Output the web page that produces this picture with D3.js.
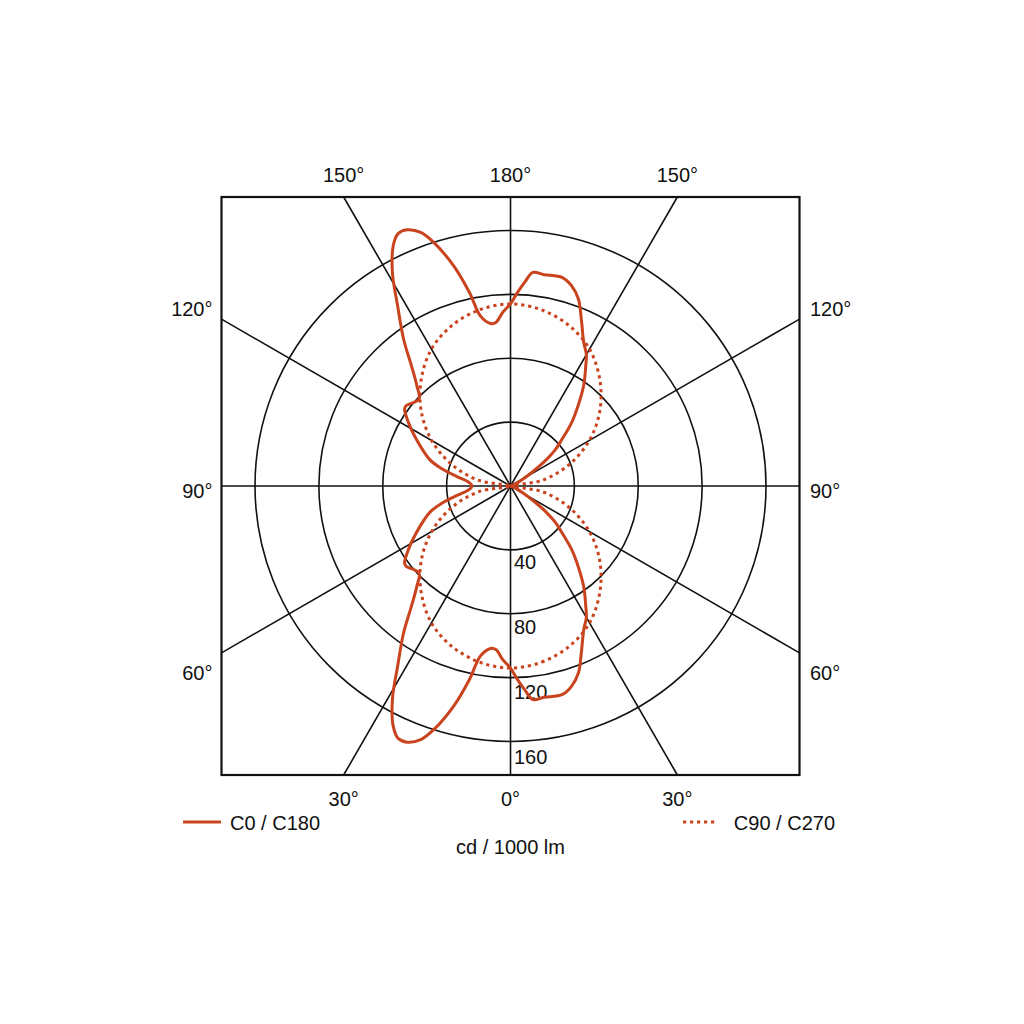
<!DOCTYPE html>
<html lang="en">
<head>
<meta charset="UTF-8">
<script src="https://d3js.org/d3.v7.min.js"></script>
<title>LDC</title>
<style>
  body { margin:0; background:#fff; }
  svg { display:block; font-family:"Liberation Sans", Arial, sans-serif; }
  .grid { stroke:#111; stroke-width:1.6px; fill:none; }
  .lbl { font-size:20px; fill:#111; }
</style>
</head>
<body>
<svg id="chart" width="1024" height="1024"></svg>
<script>
// gamma (deg from nadir) and intensity in cd / 1000 lm
var gammaC0 = [0,2,4,6,9,14,17,20,23,27,30,32,36,40,44,48,51,54,57,61,66,75,90,
               105,114,119,123,126,129,132,136,140,144,148,150,153,157,160,163,166,171,174,176,178,180];
var valueC0 = [114,121,128,134.5,134,134.5,131,124.5,113.5,101,95,89,78,66,55,43,36,27,17,9,4,1,0,
               1,4,9,17,27,36,43,55,66,78,89,95,101,113.5,124.5,131,134.5,134,134.5,128,121,114];

var gammaC180 = [0,2.5,5,7,10,12,14.5,17.5,19.5,22,24,26,29,32,36,39.5,43,46.5,52.5,54,58,63.5,72,76,80,84,88,90,
                 92,96,100,104,108,116.5,122,126,127.5,133.5,137,140.5,144,148,151,154,156,158,160.5,162.5,165.5,168,170,173,175,177.5,180];
var valueC180 = [114,109,103,102.5,108,124,142.5,160,168.5,173,173,167.5,152.5,133.5,114,97.5,86,79,82.5,82,75.5,66,53,44,34,27,24.5,24.5,
                 24.5,27,34,44,53,66,75.5,82,82.5,79,86,97.5,114,133.5,152.5,167.5,173,173,168.5,160,142.5,124,108,102.5,103,109,114];

var gammaC90 = [0,10,20,30,40,50,60,70,80,90,100,110,120,130,140,150,160,170,180];
var valueC90 = [114,112,107,99,87,73,57,39,20,0,20,39,57,73,87,99,107,112,114];

var ringTicks = [40,80,120,160];
var angleTicks = [0,30,60,90,120,150,180];

var cx = 510.5, cy = 486, half = 289;
var curveColor = "#c9441e";

var svg = d3.select("#chart");
var rScale = d3.scaleLinear().domain([0,160]).range([0,255.5]);
var rad = Math.PI / 180;

var g = svg.append("g").attr("transform","translate("+cx+","+cy+")");

// rings
g.selectAll("circle.ring")
.data(ringTicks)
.enter()
.append("circle")
.attr("class","grid")
.attr("r",function(d){ return rScale(d); });

// radial lines, clipped to the frame
function edgePoint(gm, side){
    var dx = side*Math.sin(gm*rad), dy = Math.cos(gm*rad);
    var t = half / Math.max(Math.abs(dx), Math.abs(dy));
    return {x: dx*t, y: dy*t, dx: dx, dy: dy};
}
g.selectAll("line.spoke")
.data([0,30,60,90,120,150])
.enter()
.append("line")
.attr("class","grid")
.attr("x1",function(d){ return -edgePoint(d,1).x; })
.attr("y1",function(d){ return -edgePoint(d,1).y; })
.attr("x2",function(d){ return edgePoint(d,1).x; })
.attr("y2",function(d){ return edgePoint(d,1).y; });

// frame
svg.append("rect")
.attr("x",cx-half).attr("y",cy-half)
.attr("width",half*2).attr("height",half*2)
.attr("fill","none").attr("stroke","#111").attr("stroke-width",2.2);

// ring labels
g.selectAll("text.ring")
.data(ringTicks)
.enter()
.append("text")
.attr("class","lbl")
.attr("x",3.5)
.attr("y",function(d,i){ return rScale(d) + 19 + i; })
.text(function(d){ return d; });

// angle labels
var angleLabels = [];
angleTicks.forEach(function(a){
    [1,-1].forEach(function(s){
        if((a === 0 || a === 180) && s < 0) return;
        angleLabels.push({a: a, s: s});
    });
});
g.selectAll("text.ang")
.data(angleLabels)
.enter()
.append("text")
.attr("class","lbl")
.each(function(d){
    var p = edgePoint(d.a, d.s);
    var t = d3.select(this);
    if(Math.abs(p.dy) >= Math.abs(p.dx) - 1e-9){
        t.attr("text-anchor","middle").attr("x",p.x)
         .attr("y", p.dy > 0 ? p.y + 31 : p.y - 15);
    } else {
        var sg = Math.abs(p.dy) < 1e-6 ? 0 : (p.dy > 0 ? 1 : -1);
        t.attr("text-anchor", d.s < 0 ? "end" : "start")
         .attr("x", d.s < 0 ? p.x - 9 : p.x + 10.5)
         .attr("y", p.y + 12 + sg*15.5);
    }
})
.text(function(d){ return d.a + "°"; });

// curves: right half (C0 / C90) then left half (C180 / C270) back up
function halfPoints(gammas, values, side){
    return gammas.map(function(gm,i){
        return {a: Math.PI - side*gm*rad, v: values[i]};
    });
}
var lineR = d3.lineRadial()
.angle(function(d){ return d.a; })
.radius(function(d){ return rScale(d.v); })
.curve(d3.curveCatmullRomClosed.alpha(0.5));

var ptsA = halfPoints(gammaC0, valueC0, 1)
    .concat(halfPoints(gammaC180, valueC180, -1).reverse().slice(1,-1));
var ptsB = halfPoints(gammaC90, valueC90, 1)
    .concat(halfPoints(gammaC90, valueC90, -1).reverse().slice(1,-1));

g.append("path")
.attr("d", lineR(ptsB))
.attr("fill","none")
.attr("stroke",curveColor)
.attr("stroke-width",3)
.attr("stroke-dasharray","3.2,3.8");

g.append("path")
.attr("d", lineR(ptsA))
.attr("fill","none")
.attr("stroke",curveColor)
.attr("stroke-width",3)
.attr("stroke-linejoin","round");

// legend
svg.append("line")
.attr("x1",183).attr("x2",221).attr("y1",822).attr("y2",822)
.attr("stroke",curveColor).attr("stroke-width",3);
svg.append("text").attr("class","lbl").attr("x",230).attr("y",830).text("C0 / C180");

svg.append("line")
.attr("x1",683).attr("x2",717).attr("y1",822).attr("y2",822)
.attr("stroke",curveColor).attr("stroke-width",3).attr("stroke-dasharray","3.2,3.8");
svg.append("text").attr("class","lbl").attr("x",835).attr("y",830)
.attr("text-anchor","end").text("C90 / C270");

svg.append("text").attr("class","lbl").attr("x",cx).attr("y",854)
.attr("text-anchor","middle").text("cd / 1000 lm");
</script>
</body>
</html>
